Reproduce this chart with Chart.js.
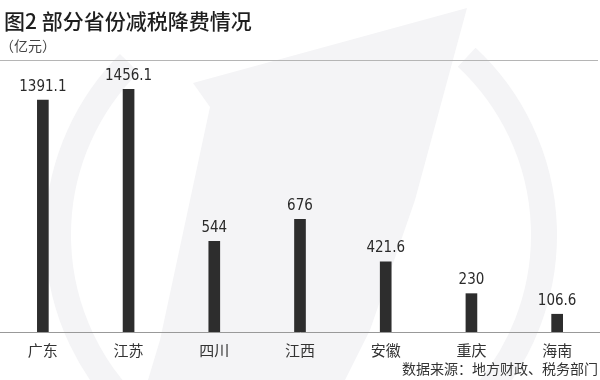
<!DOCTYPE html>
<html>
<head>
<meta charset="utf-8">
<script src="https://cdn.jsdelivr.net/npm/chart.js@4/dist/chart.umd.min.js"></script>
<style>
  html, body { margin: 0; padding: 0; background: #fff; }
  #wrap { width: 600px; height: 380px; position: relative; }
</style>
</head>
<body>
<div id="wrap"><canvas id="taxChart"></canvas></div>
<script>
// 部分省份减税降费（亿元）
const provinces = ['广东', '江苏', '四川', '江西', '安徽', '重庆', '海南'];
const cutValues = [1391.1, 1456.1, 544, 676, 421.6, 230, 106.6];
const valueLabels = ['1391.1', '1456.1', '544', '676', '421.6', '230', '106.6'];

const titleText = '图2 部分省份减税降费情况';
const unitText = '（亿元）';
const sourceText = '数据来源：地方财政、税务部门';

const cjk = '"Noto Sans CJK SC", "Noto Sans", sans-serif';

// faint logo in the background + header / footer text
const decorPlugin = {
    id: 'decor',
    beforeDraw(chart) {
        const ctx = chart.ctx;
        ctx.save();
        ctx.fillStyle = '#fff';
        ctx.fillRect(0, 0, chart.width, chart.height);

        ctx.fillStyle = '#f4f4f6';
        ctx.strokeStyle = '#f4f4f6';
        // ring
        ctx.lineWidth = 26;
        ctx.beginPath();
        ctx.arc(301, 235, 243, -47 * Math.PI / 180, 225 * Math.PI / 180);
        ctx.stroke();
        // dart
        ctx.beginPath();
        ctx.moveTo(193, 83);
        ctx.lineTo(467, 8);
        ctx.lineTo(415, 200);
        ctx.lineTo(370, 330);
        ctx.lineTo(345, 380);
        ctx.lineTo(148, 380);
        ctx.lineTo(160, 340);
        ctx.lineTo(210, 107);
        ctx.closePath();
        ctx.fill();

        // header
        ctx.fillStyle = '#1e1e1e';
        ctx.textBaseline = 'middle';
        ctx.textAlign = 'left';
        ctx.font = '500 21px ' + cjk;
        ctx.fillText(titleText, 4, 21);
        ctx.fillStyle = '#444';
        ctx.font = '14px ' + cjk;
        ctx.fillText(unitText, 0, 46);

        ctx.strokeStyle = '#b5b5b5';
        ctx.lineWidth = 1;
        ctx.beginPath();
        ctx.moveTo(0, 60.5);
        ctx.lineTo(598, 60.5);
        ctx.stroke();

        // source
        ctx.fillStyle = '#333';
        ctx.textAlign = 'right';
        ctx.font = '14px ' + cjk;
        ctx.fillText(sourceText, 598, 369);
        ctx.restore();
    },
    afterDatasetsDraw(chart) {
        const ctx = chart.ctx;
        const meta = chart.getDatasetMeta(0);
        ctx.save();
        ctx.fillStyle = '#2a2a2a';
        ctx.font = '15px "DejaVu Sans Condensed", "DejaVu Sans", sans-serif';
        ctx.textAlign = 'center';
        ctx.textBaseline = 'bottom';
        meta.data.forEach((bar, i) => {
            ctx.fillText(valueLabels[i], bar.x, bar.y - 6);
        });
        ctx.restore();
    }
};

new Chart(document.getElementById('taxChart'), {
    type: 'bar',
    data: {
        labels: provinces,
        datasets: [{
            data: cutValues,
            backgroundColor: '#2d2d2d',
            barThickness: 11
        }]
    },
    options: {
        responsive: true,
        maintainAspectRatio: false,
        animation: false,
        layout: {
            padding: { top: 62, left: -6, right: -1, bottom: 0 }
        },
        plugins: {
            legend: { display: false },
            tooltip: { enabled: false }
        },
        scales: {
            y: {
                display: false,
                min: 0,
                max: 1620
            },
            x: {
                offset: true,
                grid: { display: false, drawTicks: false },
                border: { display: true, color: '#999', width: 1 },
                ticks: {
                    color: '#333',
                    padding: 9,
                    font: { size: 15, family: cjk }
                },
                afterFit(scale) {
                    scale.height = 48;
                }
            }
        }
    },
    plugins: [decorPlugin]
});
</script>
</body>
</html>
